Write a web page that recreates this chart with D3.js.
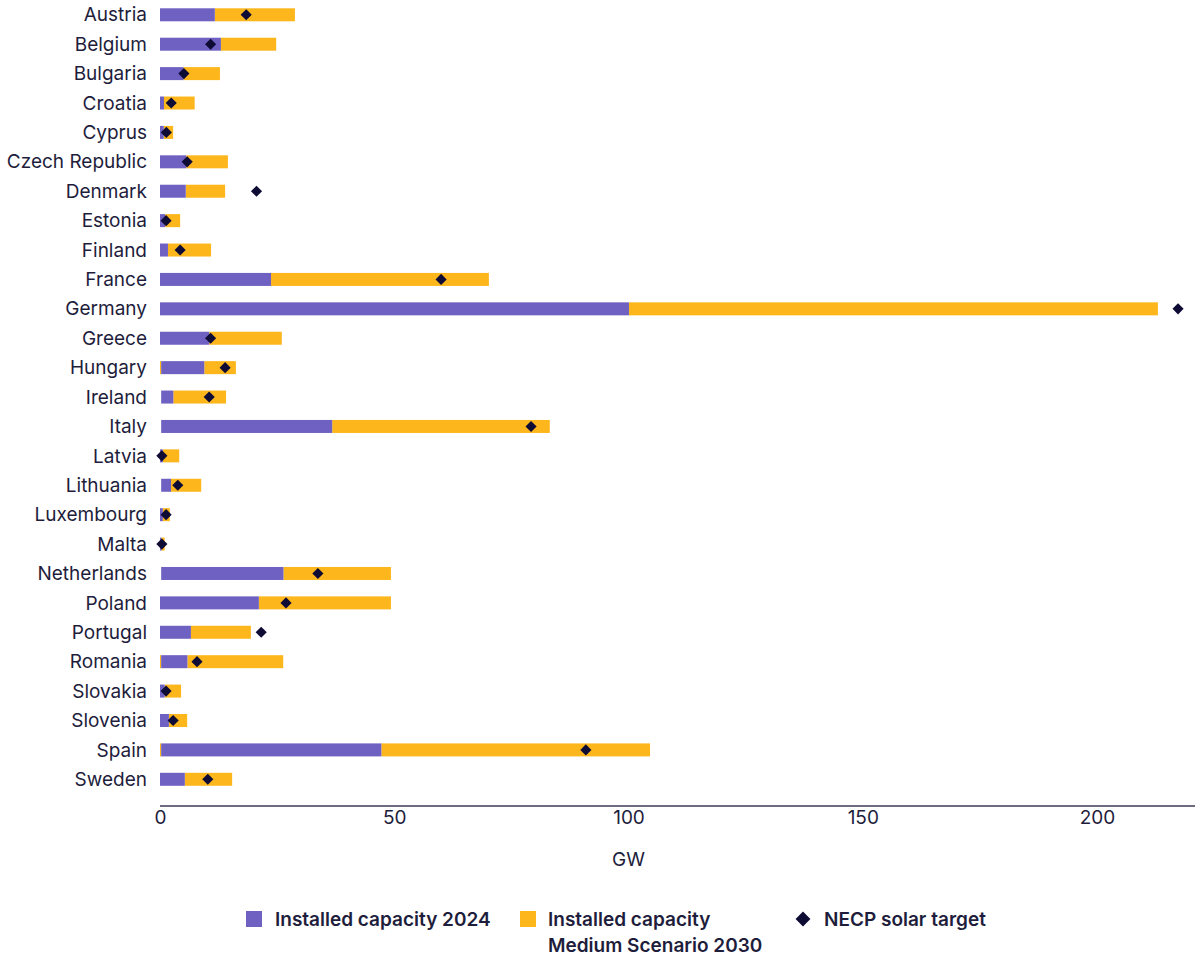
<!DOCTYPE html>
<html>
<head>
<meta charset="utf-8">
<script src="https://cdn.jsdelivr.net/npm/d3@7"></script>
<style>
  html, body { margin: 0; padding: 0; background: #ffffff; }
  svg { display: block; }
</style>
</head>
<body>
<svg id="chart" width="1195" height="958"></svg>
<script>
const countries = ["Austria","Belgium","Bulgaria","Croatia","Cyprus","Czech Republic","Denmark","Estonia","Finland","France","Germany","Greece","Hungary","Ireland","Italy","Latvia","Lithuania","Luxembourg","Malta","Netherlands","Poland","Portugal","Romania","Slovakia","Slovenia","Spain","Sweden"];
// small leading segments drawn before the 2024 bar
const leadYellow = [0,0,0,0,0,0,0,0,0,0,0,0,0.25,0,0,0,0,0,0,0,0,0,0.25,0,0,0.25,0];
const leadGap    = [0,0,0,0,0,0,0,0,0,0,0,0,0,0.25,0.25,0,0.25,0,0,0.25,0,0,0,0,0,0,0];
const installed2024 = [11.7,13.0,5.0,0.85,0.8,5.6,5.5,1.1,1.7,23.7,100.1,10.5,9.2,2.6,36.5,0.6,2.1,0.6,0.3,26.1,21.1,6.6,5.6,1.0,1.9,47.0,5.3];
// total installed capacity in 2030 (Medium Scenario)
const medium2030 = [28.8,24.8,12.8,7.4,2.8,14.5,13.9,4.3,10.9,70.2,213.0,26.0,16.2,14.1,83.2,4.1,8.8,2.1,1.0,49.3,49.3,19.4,26.3,4.5,5.8,104.6,15.4];
const necpTarget = [18.4,10.8,5.1,2.4,1.35,5.8,20.6,1.3,4.3,60.0,217.3,10.8,13.9,10.5,79.2,0.4,3.8,1.3,0.4,33.7,26.9,21.6,7.9,1.3,2.8,90.9,10.2];
const xTicks = [0,50,100,150,200];
const legendLabels = [["Installed capacity 2024"],["Installed capacity","Medium Scenario 2030"],["NECP solar target"]];

const purple = "#6e61c2", yellow = "#fdb71d", navy = "#0e0b35", textCol = "#1e1d3c";
const font = "Inter, 'Open Sans', sans-serif";

const svg = d3.select("#chart");
const x = d3.scaleLinear().domain([0, 200]).range([160, 1097]);
const y = d3.scalePoint().domain(countries).range([14.8, 779.3]);
const barH = 13;

const rows = countries.map((c, i) => {
  const a0 = leadYellow[i] + leadGap[i];
  return { c, ly: leadYellow[i], p0: a0, p1: a0 + installed2024[i], total: medium2030[i], t: necpTarget[i] };
});

// category labels
svg.append("g").selectAll("text").data(rows).join("text")
  .attr("x", 147).attr("y", d => y(d.c)).attr("dy", "0.35em")
  .attr("text-anchor", "end").attr("font-family", font).attr("font-size", 19)
  .attr("fill", textCol).text(d => d.c);

const bars = svg.append("g");
// 2030 total (yellow)
bars.selectAll("rect.y30").data(rows).join("rect").attr("class","y30")
  .attr("x", d => x(d.p1)).attr("width", d => Math.max(0, x(d.total) - x(d.p1)))
  .attr("y", d => y(d.c) - barH/2).attr("height", barH).attr("fill", yellow);
// leading yellow stubs
bars.selectAll("rect.lead").data(rows.filter(d => d.ly > 0)).join("rect").attr("class","lead")
  .attr("x", x(0)).attr("width", d => x(d.ly) - x(0))
  .attr("y", d => y(d.c) - barH/2).attr("height", barH).attr("fill", yellow);
// 2024 installed (purple)
bars.selectAll("rect.p24").data(rows).join("rect").attr("class","p24")
  .attr("x", d => x(d.p0)).attr("width", d => x(d.p1) - x(d.p0))
  .attr("y", d => y(d.c) - barH/2).attr("height", barH).attr("fill", purple);

// NECP diamonds
const diamond = d3.symbol().type(d3.symbolSquare).size(62);
svg.append("g").selectAll("path").data(rows).join("path")
  .attr("d", diamond)
  .attr("transform", d => `translate(${x(d.t)},${y(d.c)}) rotate(45)`)
  .attr("fill", navy);

// x axis
const axisY = 806;
const ax = svg.append("g").attr("transform", `translate(0,${axisY})`)
  .call(d3.axisBottom(x).tickValues(xTicks).tickSize(0).tickPadding(5).tickFormat(d3.format("d")));
ax.select(".domain").attr("d", `M${x(0)},0H1195`).attr("stroke", "#3b3a55").attr("stroke-width", 1.5);
ax.selectAll("text").attr("font-family", font).attr("font-size", 19).attr("fill", textCol);

svg.append("text").attr("x", x(100)).attr("y", 866).attr("text-anchor", "middle")
  .attr("font-family", font).attr("font-size", 19).attr("fill", textCol).text("GW");

// legend
const lg = svg.append("g").attr("font-family", font).attr("font-size", 19).attr("font-weight", 600).attr("fill", textCol);
const legendItems = [
  { sx: 246, tx: 275, type: "sq", col: purple },
  { sx: 520, tx: 548, type: "sq", col: yellow },
  { sx: 803, tx: 824, type: "dia", col: navy }
];
legendItems.forEach((it, i) => {
  if (it.type === "sq") {
    lg.append("rect").attr("x", it.sx).attr("y", 911).attr("width", 16).attr("height", 16).attr("fill", it.col);
  } else {
    lg.append("path").attr("d", d3.symbol().type(d3.symbolSquare).size(110)())
      .attr("transform", `translate(${it.sx},919) rotate(45)`).attr("fill", it.col);
  }
  legendLabels[i].forEach((line, j) => {
    lg.append("text").attr("x", it.tx).attr("y", 926 + j * 26).text(line);
  });
});
</script>
</body>
</html>
